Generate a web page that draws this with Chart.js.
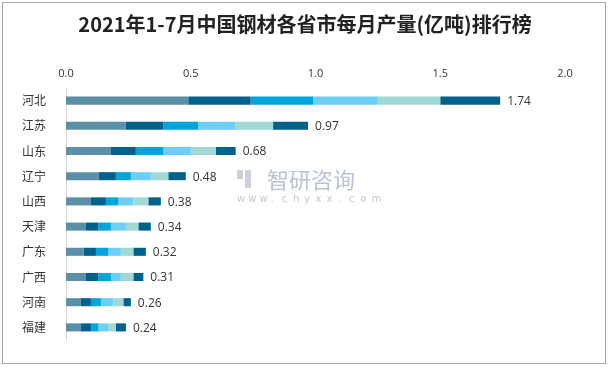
<!DOCTYPE html>
<html>
<head>
<meta charset="utf-8">
<script src="https://cdn.jsdelivr.net/npm/chart.js@4"></script>
<style>
  html, body { margin: 0; padding: 0; background: #fff; }
  #wrap { position: relative; width: 610px; height: 369px; }
</style>
</head>
<body>
<div id="wrap"><canvas id="chart" width="610" height="369"></canvas></div>
<script>
// 省份
const provinces = ["河北", "江苏", "山东", "辽宁", "山西", "天津", "广东", "广西", "河南", "福建"];
// 各段产量(亿吨): 1-2月, 3月, 4月, 5月, 6月, 7月
const seg1 = [0.49, 0.24, 0.18, 0.13, 0.10, 0.08, 0.07, 0.08, 0.06, 0.06];
const seg2 = [0.25, 0.15, 0.10, 0.07, 0.06, 0.05, 0.05, 0.05, 0.04, 0.04];
const seg3 = [0.25, 0.14, 0.11, 0.06, 0.05, 0.05, 0.05, 0.05, 0.04, 0.03];
const seg4 = [0.26, 0.15, 0.11, 0.08, 0.06, 0.06, 0.05, 0.04, 0.05, 0.04];
const seg5 = [0.25, 0.15, 0.10, 0.07, 0.06, 0.05, 0.05, 0.05, 0.04, 0.03];
const seg6 = [0.24, 0.14, 0.08, 0.07, 0.05, 0.05, 0.05, 0.04, 0.03, 0.04];
const totals = ["1.74", "0.97", "0.68", "0.48", "0.38", "0.34", "0.32", "0.31", "0.26", "0.24"];
const xTicks = [0, 0.5, 1.0, 1.5, 2.0];

const segLabels = ["1-2月", "3月", "4月", "5月", "6月", "7月"];
const segData = [seg1, seg2, seg3, seg4, seg5, seg6];
const segColors = ["#5b8fa8", "#00618a", "#00a5dc", "#6dcff6", "#a0d8d4", "#00618a"];

const titleText = "2021年1-7月中国钢材各省市每月产量(亿吨)排行榜";
const cjk = "'Noto Sans CJK SC', 'Noto Sans', sans-serif";

// frame, title, watermark and totals at bar ends
const extras = {
    id: "extras",
    beforeDraw(chart) {
        const ctx = chart.ctx;
        ctx.save();
        ctx.fillStyle = "#fff";
        ctx.fillRect(0, 0, chart.width, chart.height);
        ctx.strokeStyle = "#a6a6a6";
        ctx.lineWidth = 1;
        ctx.strokeRect(2.5, 2.5, 603, 361);
        // title, centred on the whole frame
        ctx.fillStyle = "#222";
        ctx.font = "bold 20px " + cjk;
        ctx.textAlign = "center";
        ctx.textBaseline = "middle";
        ctx.fillText(titleText, 305, 24);
        ctx.restore();
    },
    afterDatasetsDraw(chart) {
        const ctx = chart.ctx;
        ctx.save();
        // watermark
        ctx.fillStyle = "#c9d0dc";
        ctx.fillRect(237, 170, 6, 9);
        ctx.fillRect(245, 170, 6, 18);
        ctx.fillStyle = "#b9c3d6";
        ctx.font = "22px " + cjk;
        ctx.textBaseline = "middle";
        ctx.fillText("智研咨询", 267, 180);
        ctx.font = "10px 'DejaVu Sans', sans-serif";
        ctx.fillStyle = "#c4c9d2";
        const site = "www.chyxx.com";
        for (let i = 0; i < site.length; i++) {
            ctx.fillText(site[i], 237 + i * 11.2, 199);
        }
        // totals
        const meta = chart.getDatasetMeta(segData.length - 1);
        ctx.fillStyle = "#333";
        ctx.font = "12px 'Open Sans', 'DejaVu Sans', sans-serif";
        ctx.textAlign = "left";
        ctx.textBaseline = "middle";
        meta.data.forEach((bar, i) => {
            ctx.fillText(totals[i], bar.x + 7, bar.y + 1);
        });
        ctx.restore();
    }
};

new Chart(document.getElementById("chart"), {
    type: "bar",
    data: {
        labels: provinces,
        datasets: segData.map((d, i) => ({
            label: segLabels[i],
            data: d,
            backgroundColor: segColors[i],
            borderWidth: 0,
            barPercentage: 0.32,
            categoryPercentage: 1
        }))
    },
    options: {
        indexAxis: "y",
        responsive: false,
        animation: false,
        layout: { padding: { left: 0, right: 45, top: 45, bottom: 29 } },
        plugins: {
            legend: { display: false },
            tooltip: { enabled: false },
            title: { display: false }
        },
        scales: {
            x: {
                position: "top",
                stacked: true,
                min: 0,
                max: 2,
                afterBuildTicks(scale) {
                    scale.ticks = xTicks.map(v => ({ value: v }));
                },
                afterFit(scale) { scale.height = 43; },
                grid: { display: false },
                border: { display: false },
                ticks: {
                    padding: 0,
                    color: "#333",
                    font: { family: "'Open Sans', 'DejaVu Sans', sans-serif", size: 11 },
                    callback: v => Number(v).toFixed(1)
                }
            },
            y: {
                stacked: true,
                afterFit(scale) { scale.width = 66; },
                grid: { display: false },
                border: { display: true, color: "#d9d9d9", width: 1 },
                ticks: {
                    padding: 12,
                    color: "#333",
                    font: { family: cjk, size: 12 }
                }
            }
        }
    },
    plugins: [extras]
});
</script>
</body>
</html>
